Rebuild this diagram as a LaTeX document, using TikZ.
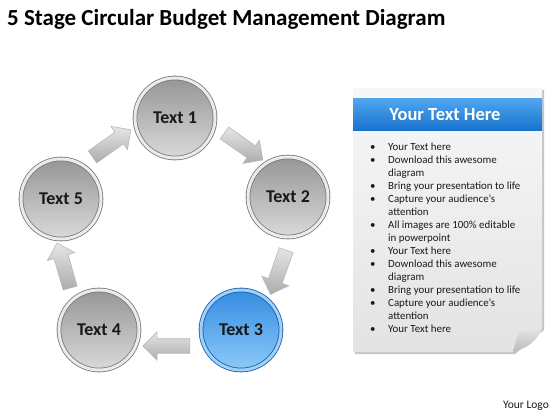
\documentclass[tikz,border=0pt]{standalone}
\usepackage{fontspec}
\setmainfont{Carlito}
\usetikzlibrary{calc,shapes.arrows}

\definecolor{disktop}{RGB}{150,150,150}
\definecolor{diskbot}{RGB}{218,218,218}
\definecolor{ringdark}{RGB}{120,120,120}
\definecolor{ringlight}{RGB}{235,235,235}
\definecolor{bluetop}{RGB}{52,140,225}
\definecolor{bluebot}{RGB}{140,202,248}
\definecolor{bluering}{RGB}{25,90,170}
\definecolor{bluelight}{RGB}{160,210,248}
\definecolor{bandtop}{RGB}{80,165,240}
\definecolor{bandbot}{RGB}{25,115,205}
\definecolor{textdark}{RGB}{25,25,25}

\tikzset{
  stage/.style={circle, minimum size=80pt, inner sep=0pt, draw=ringdark, double=ringlight,
    double distance=3pt, line width=0.8pt, top color=disktop, bottom color=diskbot,
    font=\fontsize{18}{20}\selectfont\bfseries, text=textdark},
  hot/.style={draw=bluering, double=bluelight, top color=bluetop, bottom color=bluebot},
  blockarrow/.style={single arrow, single arrow head extend=7pt, single arrow head indent=0pt,
    inner sep=7pt, minimum height=47pt, draw=gray!55, line width=0.6pt,
    top color=gray!20, bottom color=gray!65},
  listline/.style={anchor=base west, inner sep=0pt, text=textdark, font=\fontsize{10.9}{12}\selectfont}
}

\begin{document}
\begin{tikzpicture}[x=1pt, y=-1pt]
    \useasboundingbox (0,0) rectangle (560,420);
    \node[anchor=base west, inner sep=0pt, font=\fontsize{23}{27}\selectfont\bfseries] (title) at (7,26) {5 Stage Circular Budget Management Diagram};

    % stages
    \node[stage] (t1) at (175,118) {Text 1};
    \node[stage] (t2) at (288,197) {Text 2};
    \node[stage, hot] (t3) at (241,330) {Text 3};
    \node[stage] (t4) at (99,330) {Text 4};
    \node[stage] (t5) at (61,199) {Text 5};

    % arrows between stages
    \foreach \a/\b in {t5/t1, t1/t2, t2/t3, t3/t4, t4/t5}
        \path ($(\a)!16pt!90:(\b)$) -- ($(\b)!16pt!-90:(\a)$)
            node[blockarrow, midway, sloped, allow upside down] (a-\a) {};

    % note panel
    \fill[gray!45] (355,90) -- (544,90) -- (544,330) -- (515,354) -- (355,354) -- cycle;
    \shade[top color=gray!6, bottom color=gray!22] (353,88) -- (542,88) -- (542,328) -- (513,352) -- (353,352) -- cycle;
    \shade[top color=gray!20, bottom color=gray!55] (542,328) -- (518,333) -- (513,352) .. controls (528,348) and (538,340) .. cycle;
    \shade[top color=bandtop, bottom color=bandbot] (353,99) rectangle (542,130);
    \node[font=\fontsize{18.5}{22}\selectfont\bfseries, text=white] (head) at (445,115) {Your Text Here};

    % bullet lines (1 = bullet, 0 = continued line)
    \foreach \b/\txt [count=\i] in {1/Your Text here, 1/Download this awesome, 0/diagram,
        1/Bring your presentation to life, 1/Capture your audience's, 0/attention,
        1/All images are 100\% editable, 0/in powerpoint, 1/Your Text here,
        1/Download this awesome, 0/diagram, 1/Bring your presentation to life,
        1/Capture your audience's, 0/attention, 1/Your Text here} {
        \node[listline] (line-\i) at (388,{150.5+(\i-1)*13}) {\txt};
        \ifnum\b=1 \node[listline] (dot-\i) at (370,{150.5+(\i-1)*13}) {\textbullet}; \fi
    }

    \node[font=\fontsize{11.5}{13}\selectfont, text=textdark] (logo) at (526,406) {Your Logo};
\end{tikzpicture}
\end{document}
